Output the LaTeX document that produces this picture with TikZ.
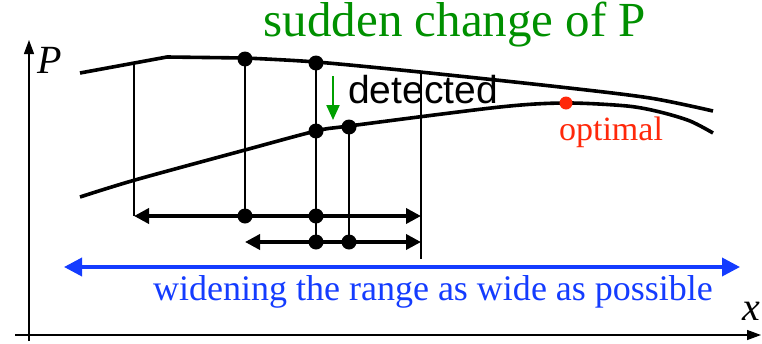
\documentclass[tikz,border=0pt]{standalone}
\usepackage{fontspec}
\setmainfont{Liberation Serif}
\setsansfont{Liberation Sans}
\usetikzlibrary{arrows.meta}
\definecolor{detgreen}{RGB}{0, 160, 0}
\definecolor{rangeblue}{RGB}{20, 60, 255}
\definecolor{optred}{RGB}{255, 40, 10}

\begin{document}
\begin{tikzpicture}[x=1pt, y=-1pt,
    curveline/.style={line width=3.6pt},
    guideline/.style={line width=1.3pt},
    rangebar/.style={line width=3.6pt, {Triangle[length=15pt,width=15pt]}-{Triangle[length=15pt,width=15pt]}},
    dotnode/.style={circle, fill=black, inner sep=0pt, minimum size=15pt}]
    \useasboundingbox (0,0) rectangle (762,343);

    % axes
    \coordinate (yBot) at (29,341);
    \coordinate (yTop) at (29,40);
    \coordinate (xLeft) at (15,335);
    \coordinate (xRight) at (761,335);
    \draw[guideline, -{Triangle[length=14pt,width=10pt]}] (yBot) -- (yTop);
    \draw[guideline, -{Triangle[length=14pt,width=10pt]}] (xLeft) -- (xRight);
    \node[font=\fontsize{40}{42}\selectfont\itshape] (pLabel) at (50,60) {P};
    \node[font=\fontsize{40}{42}\selectfont\itshape] (xLabel) at (751,311) {x};

    % the two curves
    \draw[curveline] (80,73) -- (167,57) -- (245,58) plot[smooth, tension=0.5] coordinates {(245,58) (316,62) (420,72) (560,87) (650,98) (713,111)};
    \draw[curveline] plot[smooth, tension=0.5] coordinates {(80,197) (135,180) (245,150) (316,131) (349,126) (500,107) (566,103) (627,106) (660,112) (690,121) (713,133)};

    % points on the curves
    \node[dotnode] (top1) at (245,59) {};
    \node[dotnode] (top2) at (316,63) {};
    \node[dotnode] (low1) at (316,131) {};
    \node[dotnode] (low2) at (349,127) {};
    \node[circle, fill=optred, inner sep=0pt, minimum size=13pt] (optDot) at (566,103) {};
    \coordinate (leftTop) at (134,64);
    \coordinate (rightTop) at (421,73);

    % points on the range bars
    \coordinate (barA) at (134,216);
    \coordinate (barB) at (421,216);
    \coordinate (barC) at (245,242);
    \coordinate (barD) at (421,242);
    \coordinate (rightEnd) at (421,259);
    \node[dotnode] (mid1) at (245,216) {};
    \node[dotnode] (mid2) at (316,216) {};
    \node[dotnode] (mid3) at (316,242) {};
    \node[dotnode] (mid4) at (349,242) {};

    % thin verticals
    \draw[guideline] (leftTop) -- (barA);
    \draw[guideline] (top1.center) -- (mid1.center);
    \draw[guideline] (top2.center) -- (mid3.center);
    \draw[guideline] (low2.center) -- (mid4.center);
    \draw[guideline] (rightTop) -- (rightEnd);

    % range bars
    \draw[rangebar] (barA) -- (barB);
    \draw[rangebar] (barC) -- (barD);

    % wide range
    \coordinate (wideL) at (64,267);
    \coordinate (wideR) at (740,267);
    \draw[line width=3.6pt, rangeblue, {Triangle[length=18pt,width=18pt]}-{Triangle[length=18pt,width=18pt]}] (wideL) -- (wideR);
    \node[rangeblue, font=\fontsize{36}{38}\selectfont] (wideText) at (433,292) {widening the range as wide as possible};

    % labels
    \node[detgreen!90!black, font=\fontsize{49}{52}\selectfont] (sudden) at (455,25) {sudden change of P};
    \coordinate (arrTop) at (333,76);
    \coordinate (arrBot) at (333,120);
    \draw[detgreen, line width=2.2pt, -{Triangle[length=15pt,width=13pt]}] (arrTop) -- (arrBot);
    \node[font=\fontsize{39}{41}\selectfont\sffamily] (detected) at (423,90) {detected};
    \node[optred, font=\fontsize{34}{36}\selectfont] (optText) at (611,132) {optimal};
\end{tikzpicture}
\end{document}
